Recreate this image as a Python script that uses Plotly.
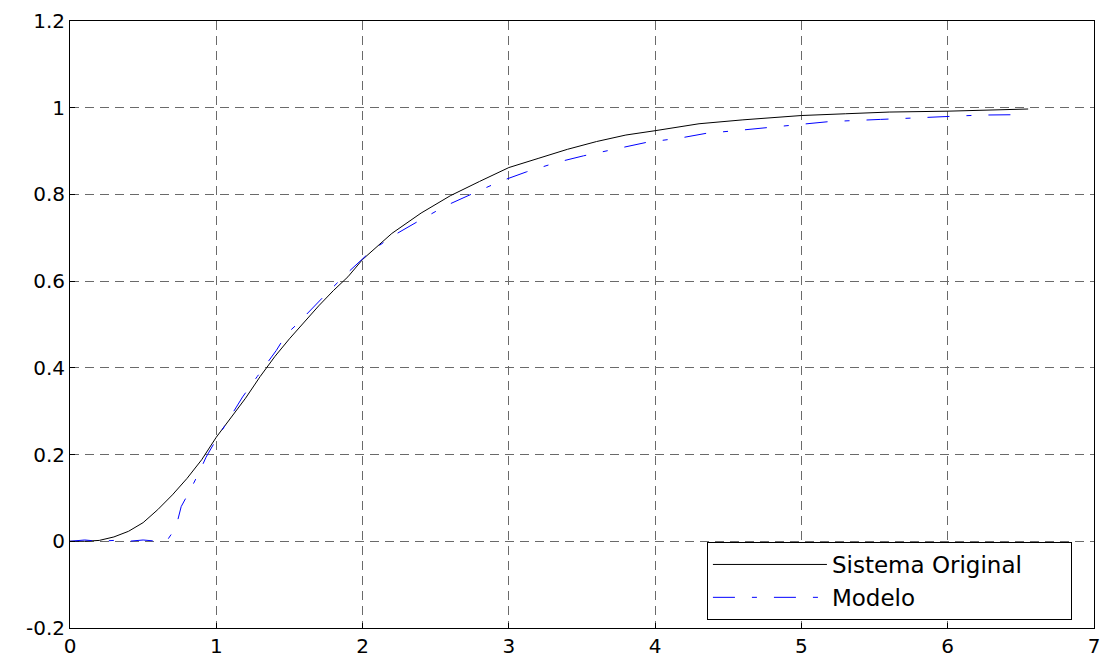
import plotly.graph_objects as go

# Sistema Original (black, solid)
t_orig = [0, 0.1, 0.2, 0.3, 0.4, 0.5, 0.6, 0.7, 0.8, 0.9, 1.0, 1.1, 1.2, 1.3, 1.4, 1.5,
          1.6, 1.7, 1.8, 1.9, 2.0, 2.2, 2.4, 2.6, 2.8, 3.0, 3.2, 3.4, 3.6, 3.8, 4.0,
          4.3, 4.6, 5.0, 5.3, 5.6, 6.0, 6.3, 6.55]
y_orig = [0, 0.0, 0.002, 0.01, 0.023, 0.043, 0.073, 0.107, 0.145, 0.188, 0.24, 0.285,
          0.33, 0.38, 0.426, 0.467, 0.505, 0.543, 0.578, 0.61, 0.65, 0.71, 0.757, 0.797,
          0.83, 0.862, 0.883, 0.904, 0.922, 0.937, 0.947, 0.963, 0.972, 0.982, 0.986,
          0.99, 0.992, 0.994, 0.997]

# Modelo (blue, dash-dot)
t_mod = [0, 0.1, 0.2, 0.3, 0.4, 0.5, 0.6, 0.66, 0.70, 0.73, 0.76, 0.82, 0.89, 0.93, 0.99,
         1.07, 1.18, 1.28, 1.41, 1.48, 1.55, 1.75, 1.89, 2.05, 2.21, 2.39, 2.57, 2.76,
         2.94, 3.12, 3.33, 3.51, 3.71, 3.94, 4.17, 4.35, 4.58, 4.76, 4.97, 5.19, 5.54,
         5.95, 6.22, 6.5]
y_mod = [0, 0.003, 0.0, 0.002, 0.0, 0.003, 0.0, 0.0, 0.02, 0.04, 0.08, 0.117, 0.164,
         0.194, 0.229, 0.272, 0.333, 0.38, 0.44, 0.478, 0.50, 0.57, 0.617, 0.667, 0.705,
         0.74, 0.774, 0.803, 0.83, 0.852, 0.874, 0.889, 0.904, 0.92, 0.93, 0.941, 0.948,
         0.954, 0.96, 0.968, 0.973, 0.98, 0.983, 0.984]

x_ticks = [0, 1, 2, 3, 4, 5, 6, 7]
x_ticktext = ["0", "1", "2", "3", "4", "5", "6", "7"]
y_ticks = [-0.2, 0, 0.2, 0.4, 0.6, 0.8, 1.0, 1.2]
y_ticktext = ["-0.2", "0", "0.2", "0.4", "0.6", "0.8", "1", "1.2"]

series_names = ["Sistema Original", "Modelo"]

FONT = "DejaVu Sans"
PAD = "\u00a0" * 6  # invisible padding to widen the legend box

fig = go.Figure()
fig.add_trace(go.Scatter(x=t_orig, y=y_orig, mode="lines", name=series_names[0] + PAD,
                         line=dict(color="black", width=1)))
fig.add_trace(go.Scatter(x=t_mod, y=y_mod, mode="lines", name=series_names[1],
                         line=dict(color="blue", width=1, dash="22px,17px,5px,17px")))

axis_common = dict(showline=True, mirror=True, linecolor="black", linewidth=1,
                   ticks="inside", ticklen=5, tickcolor="black", automargin=False,
                   showgrid=True, gridcolor="#6a6a6a", gridwidth=1, griddash="9px,6px",
                   zeroline=False, tickfont=dict(family=FONT, size=20, color="black"))

fig.update_xaxes(range=[0, 7], tickvals=x_ticks, ticktext=x_ticktext, **axis_common)
fig.update_yaxes(range=[-0.2, 1.2], tickvals=y_ticks, ticktext=y_ticktext, **axis_common)

fig.update_layout(
    width=1106, height=659,
    margin=dict(l=70, r=12, t=21, b=31),
    paper_bgcolor="white", plot_bgcolor="white",
    showlegend=True,
    legend=dict(x=0.622, y=0.1417, xanchor="left", yanchor="top",
                bgcolor="white", bordercolor="black", borderwidth=1,
                font=dict(family=FONT, size=23, color="black"),
                itemwidth=114, tracegroupgap=0),
)

fig.write_html("out.html", config={"displayModeBar": False},
               post_script="document.body.style.margin='0';")
